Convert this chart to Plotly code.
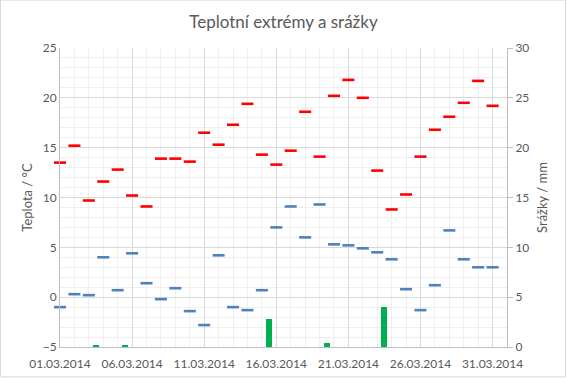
import plotly.graph_objects as go

dates = [f"2014-03-{d:02d}" for d in range(1, 32)]
t_max = [13.5, 15.2, 9.7, 11.6, 12.8, 10.2, 9.1, 13.9, 13.9, 13.6,
         16.5, 15.3, 17.3, 19.4, 14.3, 13.3, 14.7, 18.6, 14.1, 20.2,
         21.8, 20.0, 12.7, 8.8, 10.3, 14.1, 16.8, 18.1, 19.5, 21.7, 19.2]
t_min = [-1.0, 0.3, 0.2, 4.0, 0.7, 4.4, 1.4, -0.2, 0.9, -1.4,
         -2.8, 4.2, -1.0, -1.3, 0.7, 7.0, 9.1, 6.0, 9.3, 5.3,
         5.2, 4.9, 4.5, 3.8, 0.8, -1.3, 1.2, 6.7, 3.8, 3.0, 3.0]
precip = [0, 0, 0.2, 0, 0.2, 0, 0, 0, 0, 0,
          0, 0, 0, 0, 2.8, 0, 0, 0, 0.4, 0,
          0, 0, 4.0, 0, 0, 0, 0, 0, 0, 0, 0]

DAY = 86400000
FONT = "Lato"
GRAY = "#595959"

fig = go.Figure()
fig.add_trace(go.Bar(x=dates, y=precip, yaxis="y2", name="Srážky",
                     marker=dict(color="#00B050", line=dict(width=0)),
                     xperiod=DAY, xperiodalignment="middle",
                     width=0.42 * DAY))
fig.add_trace(go.Scatter(x=dates, y=t_max, mode="markers", name="Max",
                         cliponaxis=False,
                         marker=dict(symbol="line-ew", size=8.6,
                                     line=dict(color="#FF0000", width=2.6))))
fig.add_trace(go.Scatter(x=dates, y=t_min, mode="markers", name="Min",
                         cliponaxis=False,
                         marker=dict(symbol="line-ew", size=8.6,
                                     line=dict(color="#4F81BD", width=2.6))))

fig.update_layout(
    width=567, height=378, autosize=False,
    margin=dict(l=60, r=60, t=48, b=31),
    paper_bgcolor="white", plot_bgcolor="white",
    showlegend=False,
    font=dict(family=FONT, size=12, color=GRAY),
    title=dict(text="Teplotní extrémy a srážky", x=0.5, xanchor="center",
               y=1 - 22 / 378, yanchor="middle",
               font=dict(family=FONT, size=17, color=GRAY)),
    bargap=0,
    xaxis=dict(type="date", range=["2014-03-01", "2014-04-01"],
               tick0="2014-03-01", dtick=5 * DAY, tickformat="%d.%m.%Y",
               showgrid=True, gridcolor="#d9d9d9", gridwidth=1,
               minor=dict(dtick=DAY, showgrid=True, gridcolor="#efefef"),
               showline=True, linecolor="#bfbfbf", linewidth=1,
               ticks="", zeroline=False, ticklabelstandoff=6,
               automargin=False,
               tickfont=dict(family=FONT, size=12, color=GRAY)),
    yaxis=dict(range=[-5, 25], dtick=5, tick0=0,
               showgrid=True, gridcolor="#d9d9d9", gridwidth=1,
               minor=dict(dtick=1, showgrid=True, gridcolor="#efefef"),
               showline=True, linecolor="#bfbfbf", linewidth=1,
               zeroline=False, ticks="", automargin=False,
               title=dict(text="Teplota / °C", standoff=7,
                          font=dict(family=FONT, size=13, color=GRAY)),
               tickfont=dict(family=FONT, size=12, color=GRAY)),
    yaxis2=dict(range=[0, 30], dtick=5, tick0=0, overlaying="y", side="right",
                showgrid=False, zeroline=False, automargin=False,
                showline=True, linecolor="#bfbfbf", linewidth=1,
                ticks="outside", ticklen=5, tickcolor="#bfbfbf",
                title=dict(text="Srážky / mm", standoff=9,
                           font=dict(family=FONT, size=13, color=GRAY)),
                tickfont=dict(family=FONT, size=12, color=GRAY)),
    shapes=[dict(type="rect", xref="paper", yref="paper",
                 x0=-59.5 / 447, x1=505.5 / 447,
                 y0=-29.8 / 298.4, y1=346.2 / 298.4,
                 line=dict(color="#d9d9d9", width=1), layer="below")],
)

fig.write_html("out.html", config={"displayModeBar": False},
               post_script="document.body.style.margin='0';document.body.style.overflow='hidden';")
